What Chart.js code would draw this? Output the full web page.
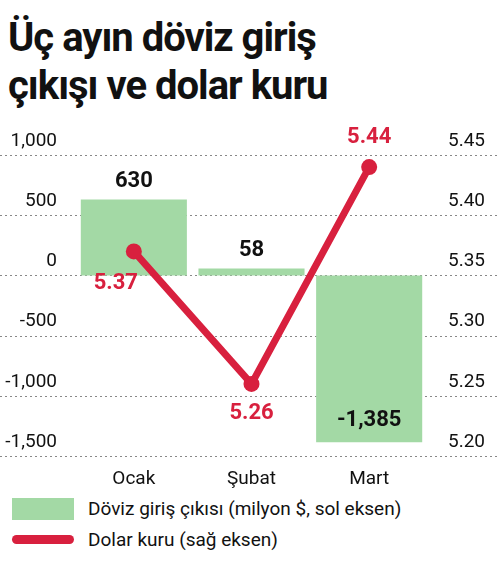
<!DOCTYPE html>
<html><head><meta charset="utf-8">
<script src="https://cdn.jsdelivr.net/npm/chart.js@4"></script>
<style>
body{margin:0;background:#fff;font-family:'Liberation Sans Narrow','Roboto',sans-serif;width:500px;height:577px;overflow:hidden;position:relative}
h1{margin:0;position:absolute;left:8px;top:14px;font-size:40px;line-height:48px;font-weight:bold;letter-spacing:-1px;color:#111}
#wrap{position:absolute;left:0;top:120px;width:500px;height:375px}
.lg{position:absolute;left:12px;font-size:19px;color:#111;display:flex;align-items:center}
.box{width:62px;height:22px;background:#a3d9a5;margin-right:14px}
.ln{width:62px;height:9px;border-radius:5px;background:#d8203e;margin-right:14px}
</style></head><body>
<h1>Üç ayın döviz giriş<br>çıkışı ve dolar kuru</h1>
<div id="wrap"><canvas id="grafico"></canvas></div>
<div class="lg" style="top:497px"><div class="box"></div>Döviz giriş çıkısı (milyon $, sol eksen)</div>
<div class="lg" style="top:528px"><div class="ln"></div>Dolar kuru (sağ eksen)</div>
<script>
var aylar = ["Ocak", "Şubat", "Mart"];
var doviz = [630, 58, -1385];
var kur = [5.37, 5.26, 5.44];
var kurEtiketPos = [[-18, 32], [0, 30], [0, -30]];

var etiketler = {
  id: 'etiketler',
  afterDatasetsDraw: function (chart) {
    var c = chart.ctx;
    c.save();
    c.textAlign = 'center';
    c.textBaseline = 'middle';
    c.font = "bold 22px 'Liberation Sans Narrow', Roboto, sans-serif";
    c.fillStyle = '#111';
    chart.getDatasetMeta(1).data.forEach(function (b, i) {
      var y = doviz[i] >= 0 ? b.y - 18 : b.y - 22;
      c.fillText(doviz[i].toLocaleString('en-US'), b.x, y);
    });
    c.fillStyle = '#d8203e';
    chart.getDatasetMeta(0).data.forEach(function (p, i) {
      c.fillText(kur[i].toFixed(2), p.x + kurEtiketPos[i][0], p.y + kurEtiketPos[i][1]);
    });
    c.restore();
  }
};

var yazi = {size: 19, family: "'Liberation Sans Narrow', Roboto, sans-serif"};
var ctx = document.getElementById('grafico');
new Chart(ctx, {
  data: {
    labels: aylar,
    datasets: [{
      type: 'line', data: kur, yAxisID: 'y1', order: 0,
      borderColor: '#d8203e', backgroundColor: '#d8203e', borderWidth: 7,
      pointRadius: 8, pointBackgroundColor: '#d8203e', pointBorderWidth: 0, tension: 0
    }, {
      type: 'bar', data: doviz, yAxisID: 'y', order: 1,
      backgroundColor: '#a3d9a5', categoryPercentage: 0.92, barPercentage: 0.98
    }]
  },
  options: {
    responsive: true, maintainAspectRatio: false, animation: false,
    layout: {padding: {top: 35, left: 0, right: 0}},
    plugins: {legend: {display: false}, tooltip: {enabled: false}},
    scales: {
      x: {
        grid: {display: false}, border: {display: false},
        ticks: {color: '#111', font: yazi, padding: 4}
      },
      y: {
        position: 'left', min: -1500, max: 1000,
        afterFit: function (s) { s.width = 75; },
        ticks: {stepSize: 500, labelOffset: -14, padding: 10, color: '#111', font: yazi,
          callback: function (v) { return v.toLocaleString('en-US'); }},
        grid: {display: false},
        border: {display: false}
      },
      y1: {
        position: 'right', min: 5.20, max: 5.45,
        afterFit: function (s) { s.width = 72; },
        ticks: {stepSize: 0.05, labelOffset: -14, padding: 12, color: '#111', font: yazi,
          callback: function (v) { return v.toFixed(2); }},
        grid: {display: false},
        border: {display: false}
      }
    }
  },
  plugins: [etiketler, {
    id: 'noktalar',
    beforeDatasetsDraw: function (chart) {
      var c = chart.ctx, s = chart.scales.y;
      c.save();
      c.strokeStyle = '#888'; c.lineWidth = 1; c.setLineDash([2, 3]);
      s.ticks.forEach(function (t) {
        var y = Math.round(s.getPixelForValue(t.value)) + 0.5;
        c.beginPath(); c.moveTo(0, y); c.lineTo(chart.width, y); c.stroke();
      });
      c.restore();
    }
  }]
});
</script>
</body></html>
